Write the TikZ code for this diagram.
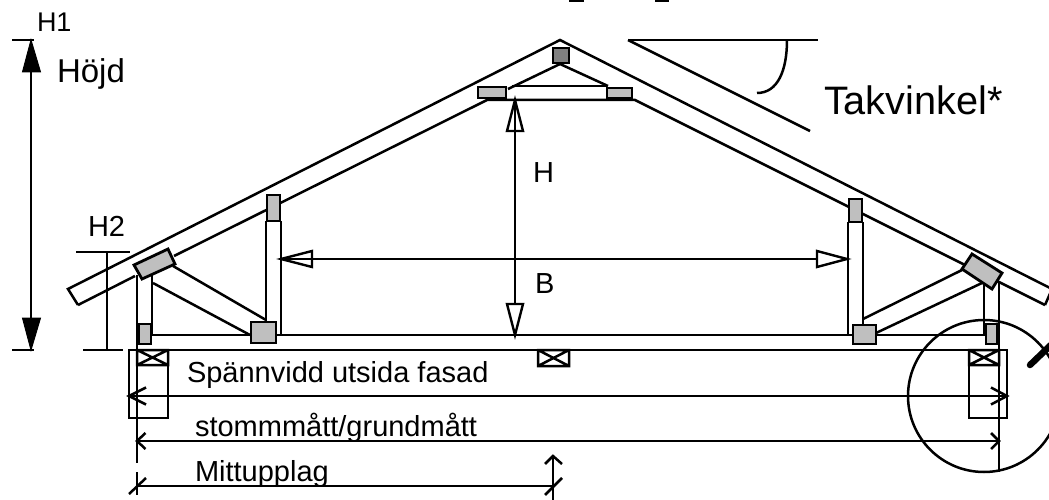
\documentclass[tikz,border=0pt]{standalone}
\usepackage{fontspec}
\setmainfont{Liberation Sans}
\usetikzlibrary{calc}
\tikzset{
  x=1pt,y=-1pt,
  ln/.style={draw=black,line width=2.5pt,line cap=butt,line join=miter},
  gus/.style={draw=black,line width=2.8pt,fill=black!25},
  gusdark/.style={draw=black,line width=2.8pt,fill=black!50},
  openarrow/.style={draw=black,line width=2.4pt,fill=white},
  solidarrow/.style={draw=black,line width=1pt,fill=black},
  lab/.style={anchor=base west,inner sep=0pt,outer sep=0pt,text=black},
  labH/.style={lab,font=\fontsize{27}{30}\selectfont},
  labS/.style={lab,font=\fontsize{29}{33}\selectfont},
  labL/.style={lab,font=\fontsize{33}{38}\selectfont},
  labT/.style={lab,font=\fontsize{39.7}{44}\selectfont},
}
\begin{document}
\begin{tikzpicture}
\useasboundingbox (0,0) rectangle (1049,500);
\begin{scope}
\clip (0,0) rectangle (1049,500);
\fill[white] (0,0) rectangle (1049,500);
% cropped text stubs at the top edge
\draw[draw=black,line width=2.4pt] (569,0.8) -- (584,0.8);
\draw[draw=black,line width=2.4pt] (655,0.8) -- (669,0.8);
% key points of the roof
\coordinate (apex) at (560,40);
\coordinate (eaveLo) at (68,289);
\coordinate (eaveLi) at (78,305);
\coordinate (eaveRo) at (1052,289);
\coordinate (eaveRi) at (1045,305);
% roof
\draw[ln] (eaveLi) -- (eaveLo) -- (apex) -- (eaveRo) -- (eaveRi);
\draw[ln] (eaveLi) -- (135,276);
\draw[ln] (174,256) -- (487,100) -- (635,100) -- (eaveRi);
% collar
\draw[ln] (512,86) -- (607,86);
\draw[ln] (508,89) -- (560,64) -- (608,86);
% chord
\draw[ln] (129,350) -- (1007,350);
\draw[ln] (151,335) -- (986,335);
% left posts and webs
\draw[ln] (152,275) -- (152,335);
\draw[ln] (266,221) -- (266,322);
\draw[ln] (281,221) -- (281,335);
\draw[ln] (173,266) -- (266,320);
\draw[ln] (153,283) -- (250,335);
% right posts and webs
\draw[ln] (848,222) -- (848,335);
\draw[ln] (863,222) -- (863,325);
\draw[ln] (984,285) -- (984,335);
\draw[ln] (863,319) -- (962,270);
\draw[ln] (876,333) -- (982,283);
% gussets
\draw[gusdark] (553,48) rectangle (569,63);
\draw[gus] (478,87) rectangle (506,98);
\draw[gus] (607,88) rectangle (632,98);
\draw[gus] (134,265) -- (168,249) -- (175,264) -- (142,279) -- cycle;
\draw[gus] (139,324) rectangle (151,344);
\draw[gus] (251,322) rectangle (276,343);
\draw[gus] (267,195) rectangle (280,221);
\draw[gus] (849,199) rectangle (862,222);
\draw[gus] (853,325) rectangle (876,344);
\draw[gus] (972,254) -- (1002,273) -- (992,289) -- (962,269) -- cycle;
\draw[gus] (986,324) rectangle (997,344);
% supports
\draw[ln] (129,350) rectangle (168,418);
\draw[ln] (137,350) rectangle (168,365) (137,350) -- (168,365) (137,365) -- (168,350);
\draw[ln] (969,350) rectangle (1007,418);
\draw[ln] (969,350) rectangle (999,365) (969,350) -- (999,365) (969,365) -- (999,350);
\draw[ln] (538,350) rectangle (569,366) (538,350) -- (569,366) (538,366) -- (569,350);
% extension lines
\draw[ln] (137,275) -- (137,463);
\draw[ln] (137,472) -- (137,495);
\draw[ln] (999,282) -- (999,472);
% circle and handle
\draw[ln] (984,396) circle[radius=76];
\draw[draw=black,line width=6.5pt,line cap=round] (1030,365) -- (1055,341);
% roof angle
\draw[ln] (628,40) -- (818,40);
\draw[ln] (628,40) -- (810,131);
\draw[ln] (787,40) .. controls (787,70) and (778,93) .. (757,93);
% dimension H
\draw[openarrow] (515,100) -- (507,131) -- (523,131) -- cycle;
\draw[openarrow] (515,335) -- (507,304) -- (523,304) -- cycle;
\draw[ln] (515,100) -- (515,304);
% dimension B
\draw[openarrow] (281,259) -- (312,251) -- (312,267) -- cycle;
\draw[openarrow] (847,259) -- (817,251) -- (817,267) -- cycle;
\draw[ln] (281,259) -- (817,259);
% total height
\draw[ln] (31,40) -- (31,350);
\draw[ln] (12,40) -- (34,40);
\draw[ln] (12,350) -- (34,350);
\draw[solidarrow] (31,40) -- (22.5,72) -- (40.5,72) -- cycle;
\draw[solidarrow] (31,350) -- (22.5,318) -- (40.5,318) -- cycle;
% H2
\draw[ln] (107,252) -- (107,350);
\draw[ln] (76,252) -- (130,252);
\draw[ln] (83,350) -- (123,350);
% horizontal dimensions
\draw[ln] (129,396) -- (1007,396);
\draw[ln] (146,387.5) -- (129,396) -- (146,404.5);
\draw[ln] (991,387.5) -- (1007,396) -- (991,404.5);
\draw[ln] (137,441) -- (999,441);
\draw[ln] (145.5,433) -- (137,441) -- (145.5,449);
\draw[ln] (991,433) -- (999,441) -- (991,449);
\draw[ln] (137,486) -- (553,486);
\draw[ln] (129,494) -- (146,478);
\draw[ln] (545,495) -- (562,478);
\draw[ln] (553,456) -- (553,500);
\draw[ln] (545,464) -- (553,456) -- (562,464);
% labels
\node[labH] (h1) at (37,32) {H1};
\node[labL] (hojd) at (57,83) {Höjd};
\node[labS] (h2) at (88,236) {H2};
\node[labT] (tak) at (824,115) {Takvinkel*};
\node[labS] (hh) at (533,182) {H};
\node[labS] (bb) at (535,293) {B};
\node[labS] (span) at (187,382) {Spännvidd utsida fasad};
\node[labS] (stom) at (195,436) {stommmått/grundmått};
\node[labS] (mitt) at (195,481) {Mittupplag};
\end{scope}
\end{tikzpicture}
\end{document}
